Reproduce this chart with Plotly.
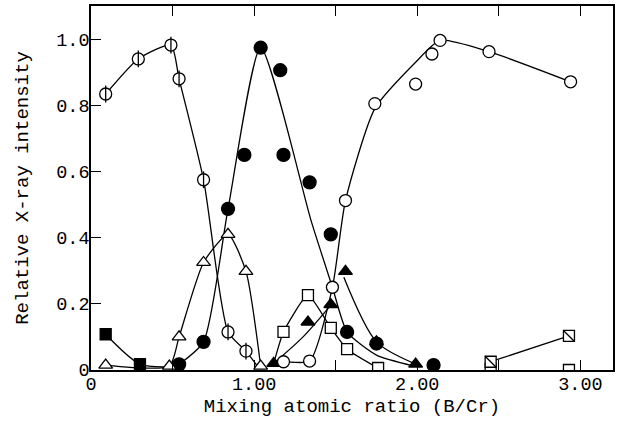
import plotly.graph_objects as go

# ---- data ----
# circles with vertical bar
cr_x = [0.09, 0.29, 0.49, 0.54, 0.69, 0.84, 0.95]
cr_y = [0.834, 0.94, 0.982, 0.88, 0.575, 0.115, 0.057]
cr_curve_x = [0.09, 0.29, 0.49, 0.54, 0.69, 0.84, 0.95, 1.03]
cr_curve_y = [0.834, 0.94, 0.982, 0.88, 0.575, 0.115, 0.057, 0.005]

# filled circles
fc_x = [0.54, 0.69, 0.84, 0.94, 1.04, 1.16, 1.18, 1.34, 1.47, 1.57, 1.75, 2.10]
fc_y = [0.017, 0.085, 0.487, 0.65, 0.974, 0.906, 0.65, 0.567, 0.41, 0.115, 0.08, 0.015]
fc_curve_x = [0.50, 0.54, 0.69, 0.84, 1.04, 1.35, 1.48, 1.57, 1.75, 1.98]
fc_curve_y = [0.005, 0.017, 0.085, 0.487, 0.974, 0.45, 0.25, 0.115, 0.045, 0.012]

# open triangles
ot_x = [0.09, 0.48, 0.54, 0.69, 0.84, 0.95, 1.04]
ot_y = [0.015, 0.012, 0.10, 0.325, 0.41, 0.298, 0.012]

# filled squares
fs_x = [0.09, 0.30]
fs_y = [0.108, 0.018]
fs_curve_x = [0.09, 0.30, 0.48]
fs_curve_y = [0.108, 0.018, 0.01]

# open squares
os_x = [1.18, 1.33, 1.47, 1.57, 1.76, 2.45, 2.93]
os_y = [0.115, 0.226, 0.127, 0.063, 0.006, 0.004, 0.0]
os_curve_x = [1.12, 1.18, 1.33, 1.47, 1.57, 1.76]
os_curve_y = [0.02, 0.115, 0.226, 0.127, 0.063, 0.006]

# filled triangles
ft_x = [1.12, 1.33, 1.47, 1.56, 1.75, 1.99]
ft_y = [0.02, 0.145, 0.198, 0.298, 0.085, 0.018]
ft_curve_x = [1.12, 1.30, 1.46, None, 1.55, 1.75, 1.99]
ft_curve_y = [0.02, 0.10, 0.19, None, 0.28, 0.085, 0.018]

# open circles
oc_x = [1.18, 1.34, 1.48, 1.56, 1.74, 1.99, 2.09, 2.14, 2.44, 2.94]
oc_y = [0.025, 0.027, 0.25, 0.512, 0.805, 0.864, 0.955, 0.996, 0.962, 0.871]
oc_curve_x = [1.12, 1.18, 1.34, 1.48, 1.56, 1.74, 1.99, 2.14, 2.44, 2.94]
oc_curve_y = [0.02, 0.025, 0.027, 0.25, 0.512, 0.79, 0.93, 0.996, 0.962, 0.871]

# crossed squares
xs_x = [2.45, 2.93]
xs_y = [0.025, 0.103]

x_ticks = [0, 0.5, 1.0, 1.5, 2.0, 2.5, 3.0]
x_ticktext = ["0", "", "1.00", "", "2.00", "", "3.00"]
y_ticks = [0, 0.2, 0.4, 0.6, 0.8, 1.0]
y_ticktext = ["0", "0.2", "0.4", "0.6", "0.8", "1.0"]

BLACK = "black"
LW = 1.3
FONT = "Liberation Mono"

fig = go.Figure()


def curve(x, y, smooth=0.8):
    fig.add_trace(go.Scatter(x=x, y=y, mode="lines",
                             line=dict(color=BLACK, width=LW, shape="spline", smoothing=smooth),
                             connectgaps=False, hoverinfo="skip"))


def marks(x, y, symbol, size, filled=False):
    fig.add_trace(go.Scatter(
        x=x, y=y, mode="markers",
        marker=dict(symbol=symbol, size=size,
                    color=BLACK if filled else "white",
                    line=dict(color=BLACK, width=LW))))


def strokes(x, y, symbol, size):
    fig.add_trace(go.Scatter(
        x=x, y=y, mode="markers",
        marker=dict(symbol=symbol, size=size, color=BLACK,
                    line=dict(color=BLACK, width=LW))))


curve(cr_curve_x, cr_curve_y, 0.6)
curve(fc_curve_x, fc_curve_y, 0.6)
curve(ot_x, ot_y, 0.6)
curve(fs_curve_x, fs_curve_y, 0.8)
curve(os_curve_x, os_curve_y, 0.5)
curve(ft_curve_x, ft_curve_y, 0.8)
curve(oc_curve_x, oc_curve_y, 0.6)
curve(xs_x, xs_y, 0)

marks(cr_x, cr_y, "circle", 12)
strokes(cr_x, cr_y, "line-ns-open", 12)
marks(fc_x, fc_y, "circle", 13, filled=True)
marks(ot_x, ot_y, "triangle-up", 12)
marks(fs_x, fs_y, "square", 11, filled=True)
marks(os_x, os_y, "square", 11)
marks(ft_x, ft_y, "triangle-up", 12, filled=True)
marks(oc_x, oc_y, "circle", 12)
marks(xs_x, xs_y, "square", 11)
strokes(xs_x, xs_y, "line-nw-open", 11)

fig.update_layout(
    width=619, height=429,
    margin=dict(l=91, r=4, t=5, b=59),
    paper_bgcolor="white", plot_bgcolor="white",
    showlegend=False,
    font=dict(family=FONT, size=18, color=BLACK),
)
fig.update_xaxes(range=[0, 3.2], tickvals=x_ticks, ticktext=x_ticktext,
                 ticks="inside", ticklen=10, tickwidth=1.2, tickcolor=BLACK,
                 tickfont=dict(family=FONT, size=18.5, color=BLACK),
                 ticklabelstandoff=-4,
                 showline=True, linecolor=BLACK, linewidth=1.5, mirror="ticks",
                 showgrid=False, zeroline=False,
                 title=dict(text="Mixing atomic ratio (B/Cr)", standoff=1,
                            font=dict(family=FONT, size=19, color=BLACK)))
fig.update_yaxes(range=[0, 1.1], tickvals=y_ticks, ticktext=y_ticktext,
                 ticks="inside", ticklen=10, tickwidth=1.2, tickcolor=BLACK,
                 tickfont=dict(family=FONT, size=18.5, color=BLACK),
                 ticklabelstandoff=-4,
                 showline=True, linecolor=BLACK, linewidth=1.5, mirror=True,
                 showgrid=False, zeroline=False,
                 title=dict(text="Relative X-ray intensity", standoff=23,
                            font=dict(family=FONT, size=19, color=BLACK)))

fig.write_html("out.html", config={"displayModeBar": False},
               post_script="document.body.style.margin='0';")
